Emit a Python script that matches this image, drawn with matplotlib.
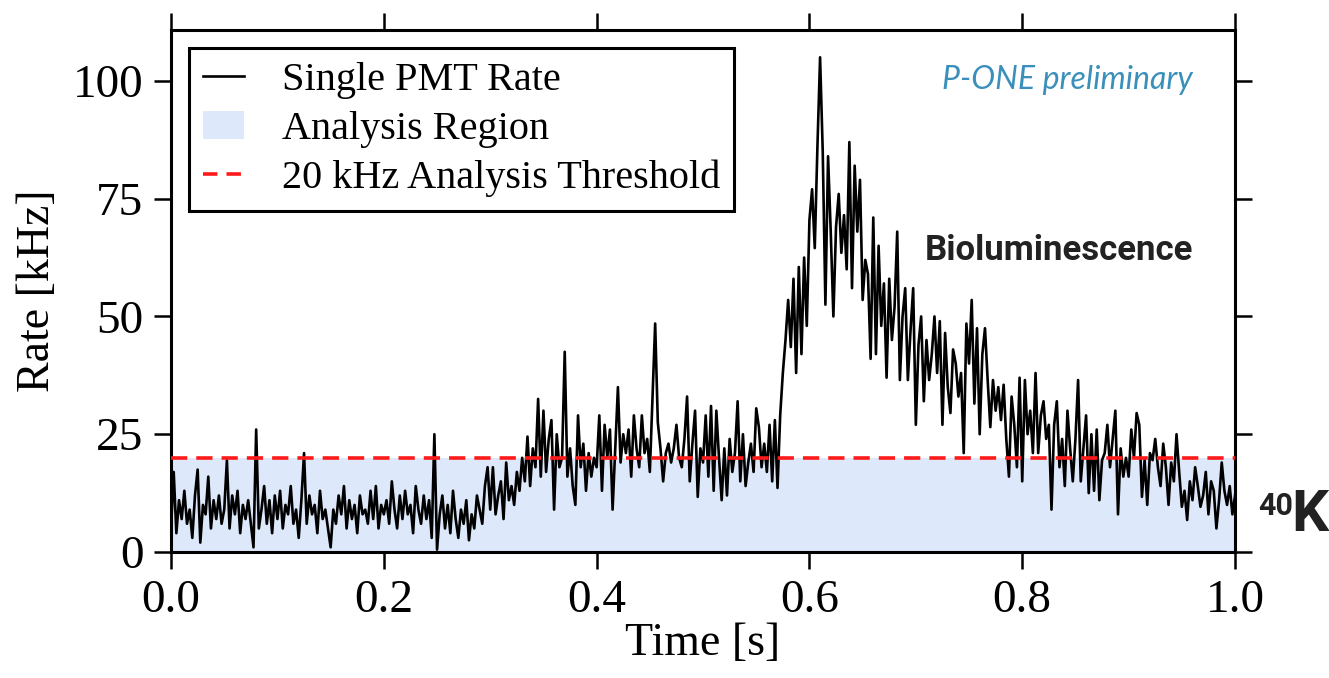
import numpy as np
import matplotlib
matplotlib.use("Agg")
import matplotlib.pyplot as plt
from matplotlib.patches import Patch
from matplotlib.lines import Line2D

plt.rcParams['font.family'] = ['Liberation Serif', 'DejaVu Serif']

# single PMT rate in kHz, one sample every 2.5 ms over 1 s
rate_khz = [
    5, 17, 4, 11, 7, 13, 6, 9, 3, 12, 17.5, 2, 10, 8, 16, 5, 11, 7, 12, 6,
    9, 19.5, 5, 12, 8, 13, 4, 10, 7, 11, 6, 1, 26, 5, 9, 14, 6, 11, 4, 12,
    7, 13, 5, 10, 8, 14, 6, 9, 3, 11, 21, 6, 12, 8, 10, 4, 13, 7, 9, 5,
    1, 9, 6, 12, 8, 14, 5, 11, 7, 10, 4, 12, 8, 9, 6, 13, 7, 14, 5, 10,
    8, 11, 6, 15, 9, 5, 12, 7, 13, 8, 10, 4, 14, 9, 6, 12, 7, 11, 3, 25,
    0.5, 8, 12, 5, 10, 4, 13, 7, 3, 9, 6, 11, 2.5, 8, 5, 12, 9, 6, 14, 18,
    9, 18, 8, 12, 15, 7, 19, 11, 14, 10, 17, 13, 20, 15, 24.5, 14, 22, 18, 32.5, 16,
    30, 17, 24, 28, 9, 25, 18, 20, 42.5, 16, 22, 14, 10, 29, 18, 23, 13, 21, 16, 20,
    18, 29, 13, 27, 20, 26, 9, 22, 35, 19, 25, 21, 26, 16, 29, 22, 18, 29, 21, 24,
    17, 33, 48.5, 27.5, 22, 15, 21, 23, 19, 22, 27, 20, 18, 24, 33, 15, 23, 30, 11.7, 22,
    19, 29, 16, 31, 13, 30, 20, 11, 22, 12, 24, 17, 21, 32, 15, 25, 14, 19, 23, 17,
    30.5, 26.5, 18, 23, 17, 27, 15, 28, 13.6, 29, 38, 45, 53.5, 43.5, 58, 38, 60.5, 42, 62.5, 48,
    70.5, 77, 64.5, 86, 105, 85, 52.5, 84, 68, 50, 69, 76, 63.5, 71.5, 60, 87, 56, 82, 68, 79,
    53.5, 62, 59, 41, 71, 42, 65, 48, 57, 37, 58, 45, 52, 68, 36.5, 50, 56, 36.5, 47, 56,
    27, 44, 50, 32, 45, 36.5, 42, 50, 38, 49, 27, 46.5, 35, 29.5, 43, 40, 33, 38, 21, 48.5,
    40, 53.5, 31.5, 47.5, 25, 42, 47.5, 36.5, 26.5, 36.5, 30, 35, 28, 35.5, 24, 16, 33, 27, 18, 37,
    15, 36.5, 25, 30, 21, 38, 21, 29, 32, 24, 27, 9, 27, 32, 18, 24, 14, 30, 22, 15,
    24, 36.5, 15, 22, 29, 12.5, 25, 13, 26, 11, 19.5, 21, 27, 18, 24, 30, 8, 22, 16, 20,
    16, 26, 20, 29.5, 27, 11.7, 19.5, 10, 21, 19.5, 24, 18, 14, 23, 18, 10, 19, 15, 25, 17,
    9.6, 13, 6.8, 15, 11, 18, 14, 9.6, 12, 17, 8, 15, 13, 5, 11, 19, 13, 10, 14, 8, 12,
]
time_s = np.linspace(0.0, 1.0, len(rate_khz))

threshold_khz = 20
x_ticks = [0.0, 0.2, 0.4, 0.6, 0.8, 1.0]
y_ticks = [0, 25, 50, 75, 100]

fig = plt.figure(figsize=(13.29, 6.78), dpi=100)
ax = fig.add_axes([0.1287, 0.1858, 0.8006, 0.77])

ax.fill_between([0, 1], 0, threshold_khz, color='#dde9fb', lw=0, zorder=1)
ax.plot(time_s, rate_khz, color='black', lw=1.9, zorder=3)
ax.axhline(threshold_khz, color='#ff1a1a', lw=2.6, dashes=(4.5, 2.5), zorder=4)

ax.set_xlim(0, 1)
ax.set_ylim(0, 110.8)
ax.set_xticks(x_ticks)
ax.set_xticklabels([f"{t:.1f}" for t in x_ticks])
ax.set_yticks(y_ticks)

for side in ax.spines.values():
    side.set_linewidth(2.2)
ax.tick_params(which='major', direction='out', length=12, width=1.8,
               labelsize=34, pad=8, top=True, right=True)
ax.set_xlabel('Time [s]', fontsize=33, labelpad=0)
ax.set_ylabel('Rate [kHz]', fontsize=33, labelpad=10)

handles = [
    Line2D([], [], color='black', lw=1.9),
    Patch(facecolor='#dde9fb', edgecolor='none'),
    Line2D([], [], color='#ff1a1a', lw=2.6, dashes=(4.0, 2.5)),
]
labels = ['Single PMT Rate', 'Analysis Region', '20 kHz Analysis Threshold']
leg = ax.legend(handles, labels, loc='upper left', fontsize=29,
                frameon=True, fancybox=False, framealpha=1,
                edgecolor='black', borderaxespad=0.45, handlelength=1.0,
                labelspacing=0.28, borderpad=0.35, handletextpad=0.95)
leg.get_frame().set_linewidth(2.2)

ax.text(0.9605, 100.2, 'P-ONE preliminary', ha='right', va='center',
        fontsize=23, style='italic', color='#3a8fbb', family=['Lato', 'DejaVu Sans'])
ax.text(0.9605, 64, 'Bioluminescence', ha='right', va='center',
        fontsize=25, weight='bold', color='#222222',
        family=['Roboto', 'DejaVu Sans'])
ax.text(1.0216, 7.9, '40', ha='left', va='baseline', fontsize=22,
        weight='bold', color='#222222', clip_on=False,
        family=['Roboto', 'DejaVu Sans'])
ax.text(1.0526, 4.5, 'K', ha='left', va='baseline', fontsize=42,
        weight='bold', color='#222222', clip_on=False,
        family=['Roboto', 'DejaVu Sans'])

fig.savefig('out.png', dpi=100)
